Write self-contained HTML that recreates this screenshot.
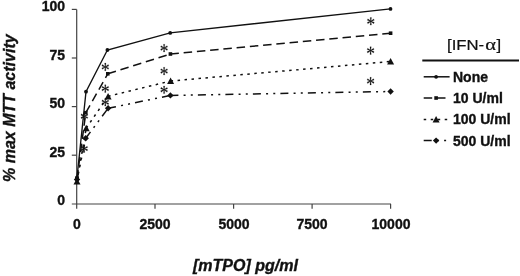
<!DOCTYPE html>
<html><head><meta charset="utf-8"><style>
html,body{margin:0;padding:0;background:#fff;}
body{width:520px;height:276px;position:relative;overflow:hidden;font-family:"Liberation Sans",sans-serif;color:#111;}
.t{position:absolute;font-weight:bold;font-size:14px;line-height:14px;white-space:nowrap;will-change:transform;-webkit-text-stroke:0.35px #111;}
.yl{text-align:right;width:40px;left:25px;}
.xl{text-align:center;width:60px;top:217px;}
svg{position:absolute;left:0;top:0;will-change:transform;}
</style></head><body>
<svg width="520" height="276" viewBox="0 0 520 276">
<g stroke="#444" stroke-width="1.2" fill="none">
<path d="M76.7,9.4V208.8M71.8,204.0H391.0"/>
<path d="M71.8,155.2H76.7"/>
<path d="M71.8,106.6H76.7"/>
<path d="M71.8,58.0H76.7"/>
<path d="M71.8,9.4H76.7"/>
<path d="M155.0,204.0V208.8"/>
<path d="M233.6,204.0V208.8"/>
<path d="M312.1,204.0V208.8"/>
<path d="M390.6,204.0V208.8"/>
</g>
<polyline points="77.0,177.5 86.0,91.7 107.4,50.0 170.2,32.9 390.5,8.9" fill="none" stroke="#111" stroke-width="1.35"/>
<path d="M77.0,178.5L85.8,112.7M85.8,112.7L107.8,73.8M107.8,73.8L170.4,54.0M170.4,54.0L390.6,33.2" fill="none" stroke="#111" stroke-width="1.5" stroke-dasharray="8.5,4.8"/>
<path d="M77.0,181.5L86.2,128.1M86.2,128.1L108.1,96.3M108.1,96.3L170.6,81.0M170.6,81.0L390.6,61.5" fill="none" stroke="#111" stroke-width="1.5" stroke-dasharray="2.5,4.5"/>
<path d="M77.0,179.5L85.7,138.3M85.7,138.3L108.1,108.3M108.1,108.3L170.4,95.4M170.4,95.4L390.6,91.5" fill="none" stroke="#111" stroke-width="1.5" stroke-dasharray="8,5.2,2,5.2,2,5.1"/>
<g fill="#111"><circle cx="77.0" cy="177.5" r="1.9"/><circle cx="86.0" cy="91.7" r="1.9"/><circle cx="107.4" cy="50.0" r="1.9"/><circle cx="170.2" cy="32.9" r="1.9"/><circle cx="390.5" cy="8.9" r="1.9"/></g>
<g fill="#111"><rect x="75.2" y="176.7" width="3.6" height="3.6"/><rect x="84.0" y="110.9" width="3.6" height="3.6"/><rect x="106.0" y="72.0" width="3.6" height="3.6"/><rect x="168.6" y="52.2" width="3.6" height="3.6"/><rect x="388.8" y="31.4" width="3.6" height="3.6"/></g>
<g fill="#111"><path d="M77.0,178.1L80.5,184.6L73.5,184.6Z"/><path d="M86.2,124.7L89.7,131.2L82.7,131.2Z"/><path d="M108.1,92.9L111.6,99.4L104.6,99.4Z"/><path d="M170.6,77.6L174.1,84.1L167.1,84.1Z"/><path d="M390.6,58.1L394.1,64.6L387.1,64.6Z"/></g>
<g fill="#111"><path d="M77.0,176.3L80.2,179.5L77.0,182.7L73.8,179.5Z"/><path d="M85.7,135.1L88.9,138.3L85.7,141.5L82.5,138.3Z"/><path d="M108.1,105.1L111.3,108.3L108.1,111.5L104.9,108.3Z"/><path d="M170.4,92.2L173.6,95.4L170.4,98.6L167.2,95.4Z"/><path d="M390.6,88.3L393.8,91.5L390.6,94.7L387.4,91.5Z"/></g>
<g fill="#111" stroke="#111" stroke-width="0.2"><path transform="translate(105.30,66.90) scale(0.00847,-0.01012) translate(-513,-965.5)" vector-effect="non-scaling-stroke" d="M100 1065 164 1208 479 1014 436 1341H592L545 1014L862 1204L926 1063L594 965L926 868L862 727L545 915L592 590H436L479 918L164 723L100 866L428 965Z"/><path transform="translate(105.30,88.60) scale(0.00847,-0.01012) translate(-513,-965.5)" vector-effect="non-scaling-stroke" d="M100 1065 164 1208 479 1014 436 1341H592L545 1014L862 1204L926 1063L594 965L926 868L862 727L545 915L592 590H436L479 918L164 723L100 866L428 965Z"/><path transform="translate(105.30,102.30) scale(0.00847,-0.01012) translate(-513,-965.5)" vector-effect="non-scaling-stroke" d="M100 1065 164 1208 479 1014 436 1341H592L545 1014L862 1204L926 1063L594 965L926 868L862 727L545 915L592 590H436L479 918L164 723L100 866L428 965Z"/><path transform="translate(164.10,48.10) scale(0.00847,-0.01012) translate(-513,-965.5)" vector-effect="non-scaling-stroke" d="M100 1065 164 1208 479 1014 436 1341H592L545 1014L862 1204L926 1063L594 965L926 868L862 727L545 915L592 590H436L479 918L164 723L100 866L428 965Z"/><path transform="translate(164.10,71.10) scale(0.00847,-0.01012) translate(-513,-965.5)" vector-effect="non-scaling-stroke" d="M100 1065 164 1208 479 1014 436 1341H592L545 1014L862 1204L926 1063L594 965L926 868L862 727L545 915L592 590H436L479 918L164 723L100 866L428 965Z"/><path transform="translate(164.10,89.80) scale(0.00847,-0.01012) translate(-513,-965.5)" vector-effect="non-scaling-stroke" d="M100 1065 164 1208 479 1014 436 1341H592L545 1014L862 1204L926 1063L594 965L926 868L862 727L545 915L592 590H436L479 918L164 723L100 866L428 965Z"/><path transform="translate(370.80,21.30) scale(0.00847,-0.01012) translate(-513,-965.5)" vector-effect="non-scaling-stroke" d="M100 1065 164 1208 479 1014 436 1341H592L545 1014L862 1204L926 1063L594 965L926 868L862 727L545 915L592 590H436L479 918L164 723L100 866L428 965Z"/><path transform="translate(370.60,50.60) scale(0.00847,-0.01012) translate(-513,-965.5)" vector-effect="non-scaling-stroke" d="M100 1065 164 1208 479 1014 436 1341H592L545 1014L862 1204L926 1063L594 965L926 868L862 727L545 915L592 590H436L479 918L164 723L100 866L428 965Z"/><path transform="translate(370.60,81.10) scale(0.00847,-0.01012) translate(-513,-965.5)" vector-effect="non-scaling-stroke" d="M100 1065 164 1208 479 1014 436 1341H592L545 1014L862 1204L926 1063L594 965L926 868L862 727L545 915L592 590H436L479 918L164 723L100 866L428 965Z"/><path transform="translate(84.40,116.20) scale(0.00847,-0.01012) translate(-513,-965.5)" vector-effect="non-scaling-stroke" d="M100 1065 164 1208 479 1014 436 1341H592L545 1014L862 1204L926 1063L594 965L926 868L862 727L545 915L592 590H436L479 918L164 723L100 866L428 965Z"/><path transform="translate(84.20,148.60) scale(0.00847,-0.01012) translate(-513,-965.5)" vector-effect="non-scaling-stroke" d="M100 1065 164 1208 479 1014 436 1341H592L545 1014L862 1204L926 1063L594 965L926 868L862 727L545 915L592 590H436L479 918L164 723L100 866L428 965Z"/></g>
<path d="M422.3,60.5H519" stroke="#111" stroke-width="1.8"/>
<path d="M423.7,76.8H449.6" stroke="#111" stroke-width="1.5"/>
<g fill="#111"><circle cx="436.1" cy="76.8" r="1.9"/></g>
<path d="M423.7,98.0H449.6" stroke="#111" stroke-width="1.5" stroke-dasharray="8.5,4.8"/>
<g fill="#111"><rect x="434.3" y="96.2" width="3.6" height="3.6"/></g>
<path d="M423.7,119.4H449.6" stroke="#111" stroke-width="1.5" stroke-dasharray="2.5,4.5"/>
<g fill="#111"><path d="M436.1,116.0L439.6,122.5L432.6,122.5Z"/></g>
<path d="M423.7,140.6H449.6" stroke="#111" stroke-width="1.5" stroke-dasharray="8,5.2,2,5.2,2,5.1"/>
<g fill="#111"><path d="M436.1,137.4L439.3,140.6L436.1,143.8L432.9,140.6Z"/></g>
</svg>
<div class="t yl" style="top:-1px">100</div>
<div class="t yl" style="top:48px">75</div>
<div class="t yl" style="top:96px">50</div>
<div class="t yl" style="top:145px">25</div>
<div class="t yl" style="top:193px">0</div>
<div class="t xl" style="left:47px">0</div>
<div class="t xl" style="left:125px">2500</div>
<div class="t xl" style="left:204px">5000</div>
<div class="t xl" style="left:282px">7500</div>
<div class="t xl" style="left:361px">10000</div>
<div class="t" style="left:193px;top:258px;font-size:16px;line-height:16px;font-style:italic;">[mTPO] pg/ml</div>
<div class="t" style="left:1.5px;top:182px;font-size:16px;line-height:16px;font-style:italic;transform-origin:0 0;transform:rotate(-90deg);">% max MTT activity</div>
<div class="t" style="left:447.2px;top:37px;font-size:15px;line-height:15px;font-weight:normal;transform-origin:0 0;transform:scaleX(1.115);-webkit-text-stroke:0.2px #111;">[IFN-<span style="font-family:'Liberation Serif';font-size:16px;display:inline-block;transform:scaleX(1.15);margin:0 1.6px 0 1.2px">&alpha;</span>]</div>
<div class="t" style="left:453px;top:69.5px">None</div>
<div class="t" style="left:453px;top:90.8px">10 U/ml</div>
<div class="t" style="left:453px;top:112.3px">100 U/ml</div>
<div class="t" style="left:453px;top:133.6px">500 U/ml</div>
</body></html>
